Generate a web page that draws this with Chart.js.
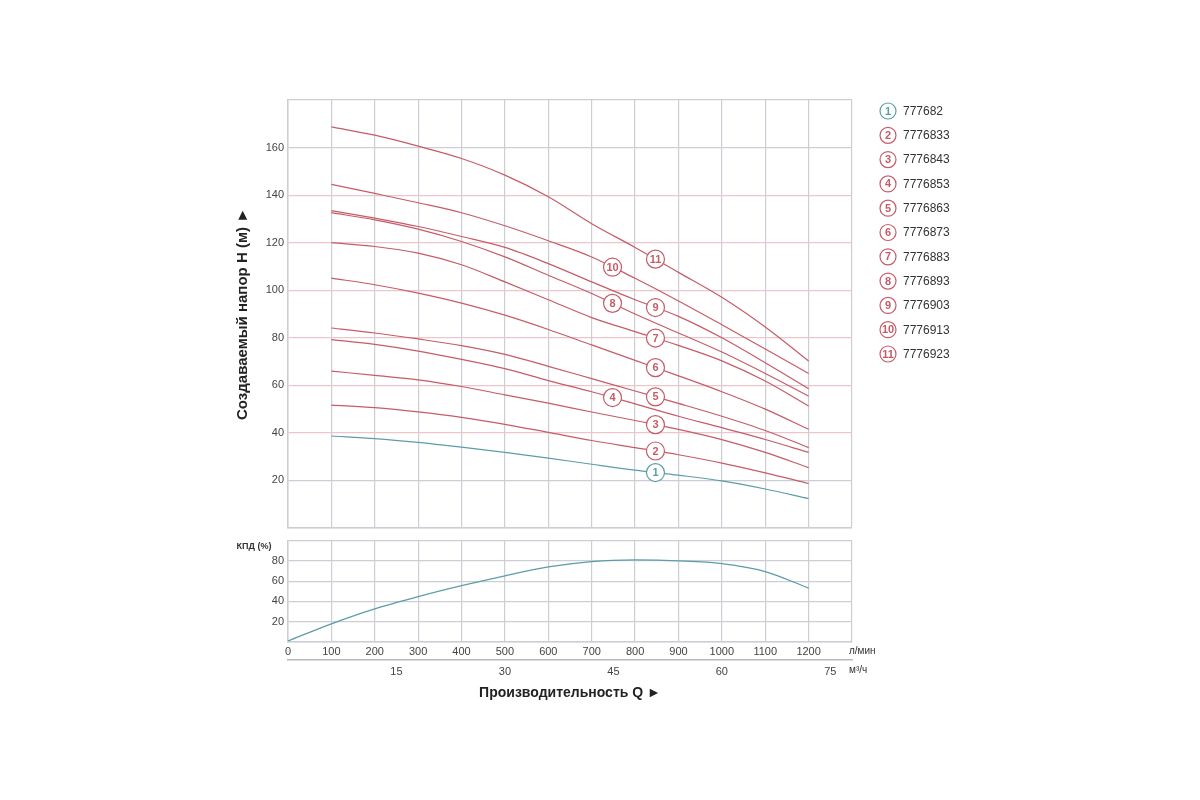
<!DOCTYPE html>
<html lang="ru">
<head>
<meta charset="utf-8">
<title>Напорные характеристики насосов</title>
<script src="https://cdn.jsdelivr.net/npm/chart.js@4.4.1/dist/chart.umd.min.js"></script>
<style>
  html, body { margin: 0; padding: 0; background: #fff; }
  #wrap { position: relative; width: 1200px; height: 800px; }
  .box { position: absolute; left: 0; width: 1200px; }
  #headBox { top: 0; height: 540px; }
  #effBox { top: 530px; height: 190px; }
</style>
</head>
<body>
<div id="wrap">
  <div class="box" id="headBox"><canvas id="headChart"></canvas></div>
  <div class="box" id="effBox"><canvas id="effChart"></canvas></div>
</div>
<script>
// flow, l/min
const flow = [100, 200, 300, 400, 500, 600, 700, 800, 900, 1000, 1100, 1200];

// head, m (one array per pump)
const head1 = [38.7, 37.6, 36.0, 34.0, 31.8, 29.4, 26.8, 24.3, 22.2, 19.8, 16.4, 12.4];
const head2 = [51.7, 50.6, 48.8, 46.5, 43.6, 40.2, 36.8, 33.8, 30.8, 27.3, 23.2, 18.7];
const head3 = [66.0, 64.2, 62.3, 59.5, 56.0, 52.5, 48.8, 45.2, 41.5, 37.2, 31.8, 25.4];
const head4 = [79.2, 77.2, 74.4, 70.9, 67.0, 62.0, 57.3, 52.2, 47.0, 42.2, 37.2, 31.8];
const head5 = [84.1, 82.0, 79.5, 76.7, 73.0, 68.0, 62.8, 57.6, 52.4, 47.0, 41.0, 33.8];
const head6 = [105.1, 102.3, 98.8, 94.6, 89.5, 83.5, 77.0, 70.5, 64.0, 57.3, 50.0, 41.5];
const head7 = [120.0, 118.4, 115.6, 110.7, 103.5, 96.0, 88.5, 82.6, 76.8, 70.3, 61.8, 51.3];
const head8 = [132.6, 129.6, 125.7, 120.5, 114.0, 106.3, 98.6, 90.0, 82.0, 74.0, 65.0, 55.5];
const head9 = [133.5, 130.3, 126.8, 122.6, 118.0, 111.2, 103.5, 96.0, 89.0, 80.0, 69.5, 58.6];
const head10 = [144.5, 140.7, 136.8, 132.6, 127.1, 120.8, 114.0, 105.0, 95.5, 85.5, 75.3, 65.0];
const head11 = [168.7, 165.2, 160.6, 155.4, 148.4, 139.3, 128.0, 118.0, 107.5, 97.0, 84.5, 70.2];

const heads = [head1, head2, head3, head4, head5, head6, head7, head8, head9, head10, head11];
const models = ["777682", "7776833", "7776843", "7776853", "7776863", "7776873",
                "7776883", "7776893", "7776903", "7776913", "7776923"];
// where the circled number sits on each curve (flow, l/min)
const labelFlow = [847, 847, 847, 748, 847, 847, 847, 748, 847, 748, 847];

// efficiency curve
const effFlow = [0, 100, 200, 300, 400, 500, 600, 700, 800, 900, 1000, 1100, 1200];
const efficiency = [1, 17.9, 32.6, 44.7, 55.5, 65.3, 74, 79.3, 80.9, 80, 77.3, 69.5, 53.2];

// second flow scale, m³/h
const flowM3hTicks = [15, 30, 45, 60, 75];

const RED = "#c65c67";
const TEAL = "#5b9ea8";
const GRID = "#cdcdd5";
const GRID_PINK = "#ecc6ca";
const NARROW = "'Liberation Sans Narrow', 'Liberation Sans', Arial, sans-serif";
const BOLD = "'Liberation Sans', Arial, sans-serif";

Chart.defaults.font.family = NARROW;
Chart.defaults.font.size = 11;
Chart.defaults.color = "#444";

const colorOf = (i) => (i === 0 ? TEAL : RED);

const valueAt = (xs, ys, q) => {
  for (let i = 1; i < xs.length; i++) {
    if (q <= xs[i]) {
      let t = (q - xs[i - 1]) / (xs[i] - xs[i - 1]);
      return ys[i - 1] + t * (ys[i] - ys[i - 1]);
    }
  }
  return ys[ys.length - 1];
};

const drawBadge = (ctx, x, y, r, n, color) => {
  ctx.beginPath();
  ctx.arc(x, y, r, 0, Math.PI * 2);
  ctx.fillStyle = "#fff";
  ctx.fill();
  ctx.lineWidth = 1.2;
  ctx.strokeStyle = color;
  ctx.stroke();
  ctx.fillStyle = color;
  ctx.font = "bold 11px " + BOLD;
  ctx.textAlign = "center";
  ctx.textBaseline = "middle";
  ctx.fillText(String(n), x, y + 0.5);
};

const curveLabels = {
  id: "curveLabels",
  afterDatasetsDraw(chart) {
    const ctx = chart.ctx;
    const xs = chart.scales.x;
    const ys = chart.scales.y;
    ctx.save();
    heads.forEach((h, i) => {
      let q = labelFlow[i];
      let v = valueAt(flow, h, q);
      drawBadge(ctx, xs.getPixelForValue(q), ys.getPixelForValue(v), 9, i + 1, colorOf(i));
    });
    ctx.restore();
  }
};

const sideLegend = {
  id: "sideLegend",
  afterDraw(chart) {
    const ctx = chart.ctx;
    const area = chart.chartArea;
    ctx.save();
    models.forEach((m, i) => {
      let cx = area.right + 36;
      let cy = area.top + 11 + i * 24.3;
      drawBadge(ctx, cx, cy, 8, i + 1, colorOf(i));
      ctx.fillStyle = "#333";
      ctx.font = "12px " + BOLD;
      ctx.textAlign = "left";
      ctx.textBaseline = "middle";
      ctx.fillText(m, cx + 15, cy + 0.5);
    });
    ctx.restore();
  }
};

const effNotes = {
  id: "effNotes",
  afterDraw(chart) {
    const ctx = chart.ctx;
    const area = chart.chartArea;
    ctx.save();
    ctx.fillStyle = "#333";
    ctx.textBaseline = "middle";
    ctx.font = "bold 9px " + NARROW;
    ctx.textAlign = "center";
    ctx.fillText("КПД (%)", area.left - 34, area.top + 6);
    ctx.font = "10px " + BOLD;
    ctx.textAlign = "left";
    ctx.fillText("л/мин", area.right - 3, area.bottom + 9);
    ctx.fillText("м³/ч", area.right - 3, area.bottom + 28);
    ctx.restore();
  }
};

const headDatasets = heads.map((h, i) => ({
  label: models[i],
  data: flow.map((q, k) => ({ x: q, y: h[k] })),
  borderColor: colorOf(i),
  borderWidth: 1.2,
  pointRadius: 0,
  cubicInterpolationMode: "monotone",
  fill: false
}));

new Chart(document.getElementById("headChart"), {
  type: "line",
  data: { datasets: headDatasets },
  options: {
    responsive: true,
    maintainAspectRatio: false,
    animation: false,
    layout: { padding: { left: 234, right: 348, top: 100, bottom: 12 } },
    plugins: { legend: { display: false }, tooltip: { enabled: false } },
    scales: {
      x: {
        type: "linear",
        min: 0,
        max: 1300,
        ticks: { display: false, stepSize: 100 },
        grid: { color: GRID, drawTicks: false, lineWidth: 1.2 },
        border: { color: GRID, width: 1.5 },
        afterFit: (s) => { s.height = 0; }
      },
      y: {
        min: 0,
        max: 180,
        ticks: {
          stepSize: 20,
          padding: 4,
          callback: (v) => (v === 0 || v === 180 ? "" : v)
        },
        grid: {
          drawTicks: false,
          lineWidth: 1.2,
          color: (c) => (c.tick && c.tick.value >= 40 && c.tick.value <= 140 ? GRID_PINK : GRID)
        },
        border: { color: GRID, width: 1.5 },
        title: {
          display: true,
          text: "Создаваемый напор H (м) ►",
          color: "#222",
          font: { family: BOLD, size: 15, weight: "bold" },
          padding: 0
        },
        afterFit: (s) => { s.width = 54; }
      }
    }
  },
  plugins: [curveLabels, sideLegend]
});

new Chart(document.getElementById("effChart"), {
  type: "line",
  data: {
    datasets: [{
      label: "КПД",
      data: effFlow.map((q, k) => ({ x: q, y: efficiency[k] })),
      borderColor: TEAL,
      borderWidth: 1.3,
      pointRadius: 0,
      cubicInterpolationMode: "monotone",
      fill: false
    }]
  },
  options: {
    responsive: true,
    maintainAspectRatio: false,
    animation: false,
    layout: { padding: { left: 234, right: 348, top: 10, bottom: 18.6 } },
    plugins: { legend: { display: false }, tooltip: { enabled: false } },
    scales: {
      x: {
        type: "linear",
        position: "bottom",
        min: 0,
        max: 1300,
        ticks: {
          stepSize: 100,
          padding: 3,
          maxRotation: 0,
          callback: (v) => (v === 1300 ? "" : v)
        },
        grid: { color: GRID, drawTicks: false, lineWidth: 1.2 },
        border: { color: GRID, width: 1.5 },
        afterFit: (s) => { s.height = 18; }
      },
      x2: {
        type: "linear",
        position: "bottom",
        min: 0,
        max: 78,
        afterBuildTicks: (s) => { s.ticks = flowM3hTicks.map((v) => ({ value: v })); },
        ticks: { padding: 5, maxRotation: 0 },
        grid: { display: false, drawTicks: false },
        border: { color: "#b9b9c2", width: 1.5 },
        title: {
          display: true,
          text: "Производительность Q ►",
          color: "#222",
          font: { family: BOLD, size: 14, weight: "bold" },
          padding: 0
        },
        afterFit: (s) => { s.height = 41.4; }
      },
      y: {
        min: 0,
        max: 100,
        ticks: {
          stepSize: 20,
          padding: 4,
          callback: (v) => (v === 0 || v === 100 ? "" : v)
        },
        grid: { color: GRID, drawTicks: false, lineWidth: 1.2 },
        border: { color: GRID, width: 1.5 },
        afterFit: (s) => { s.width = 54; }
      }
    }
  },
  plugins: [effNotes]
});
</script>
</body>
</html>
